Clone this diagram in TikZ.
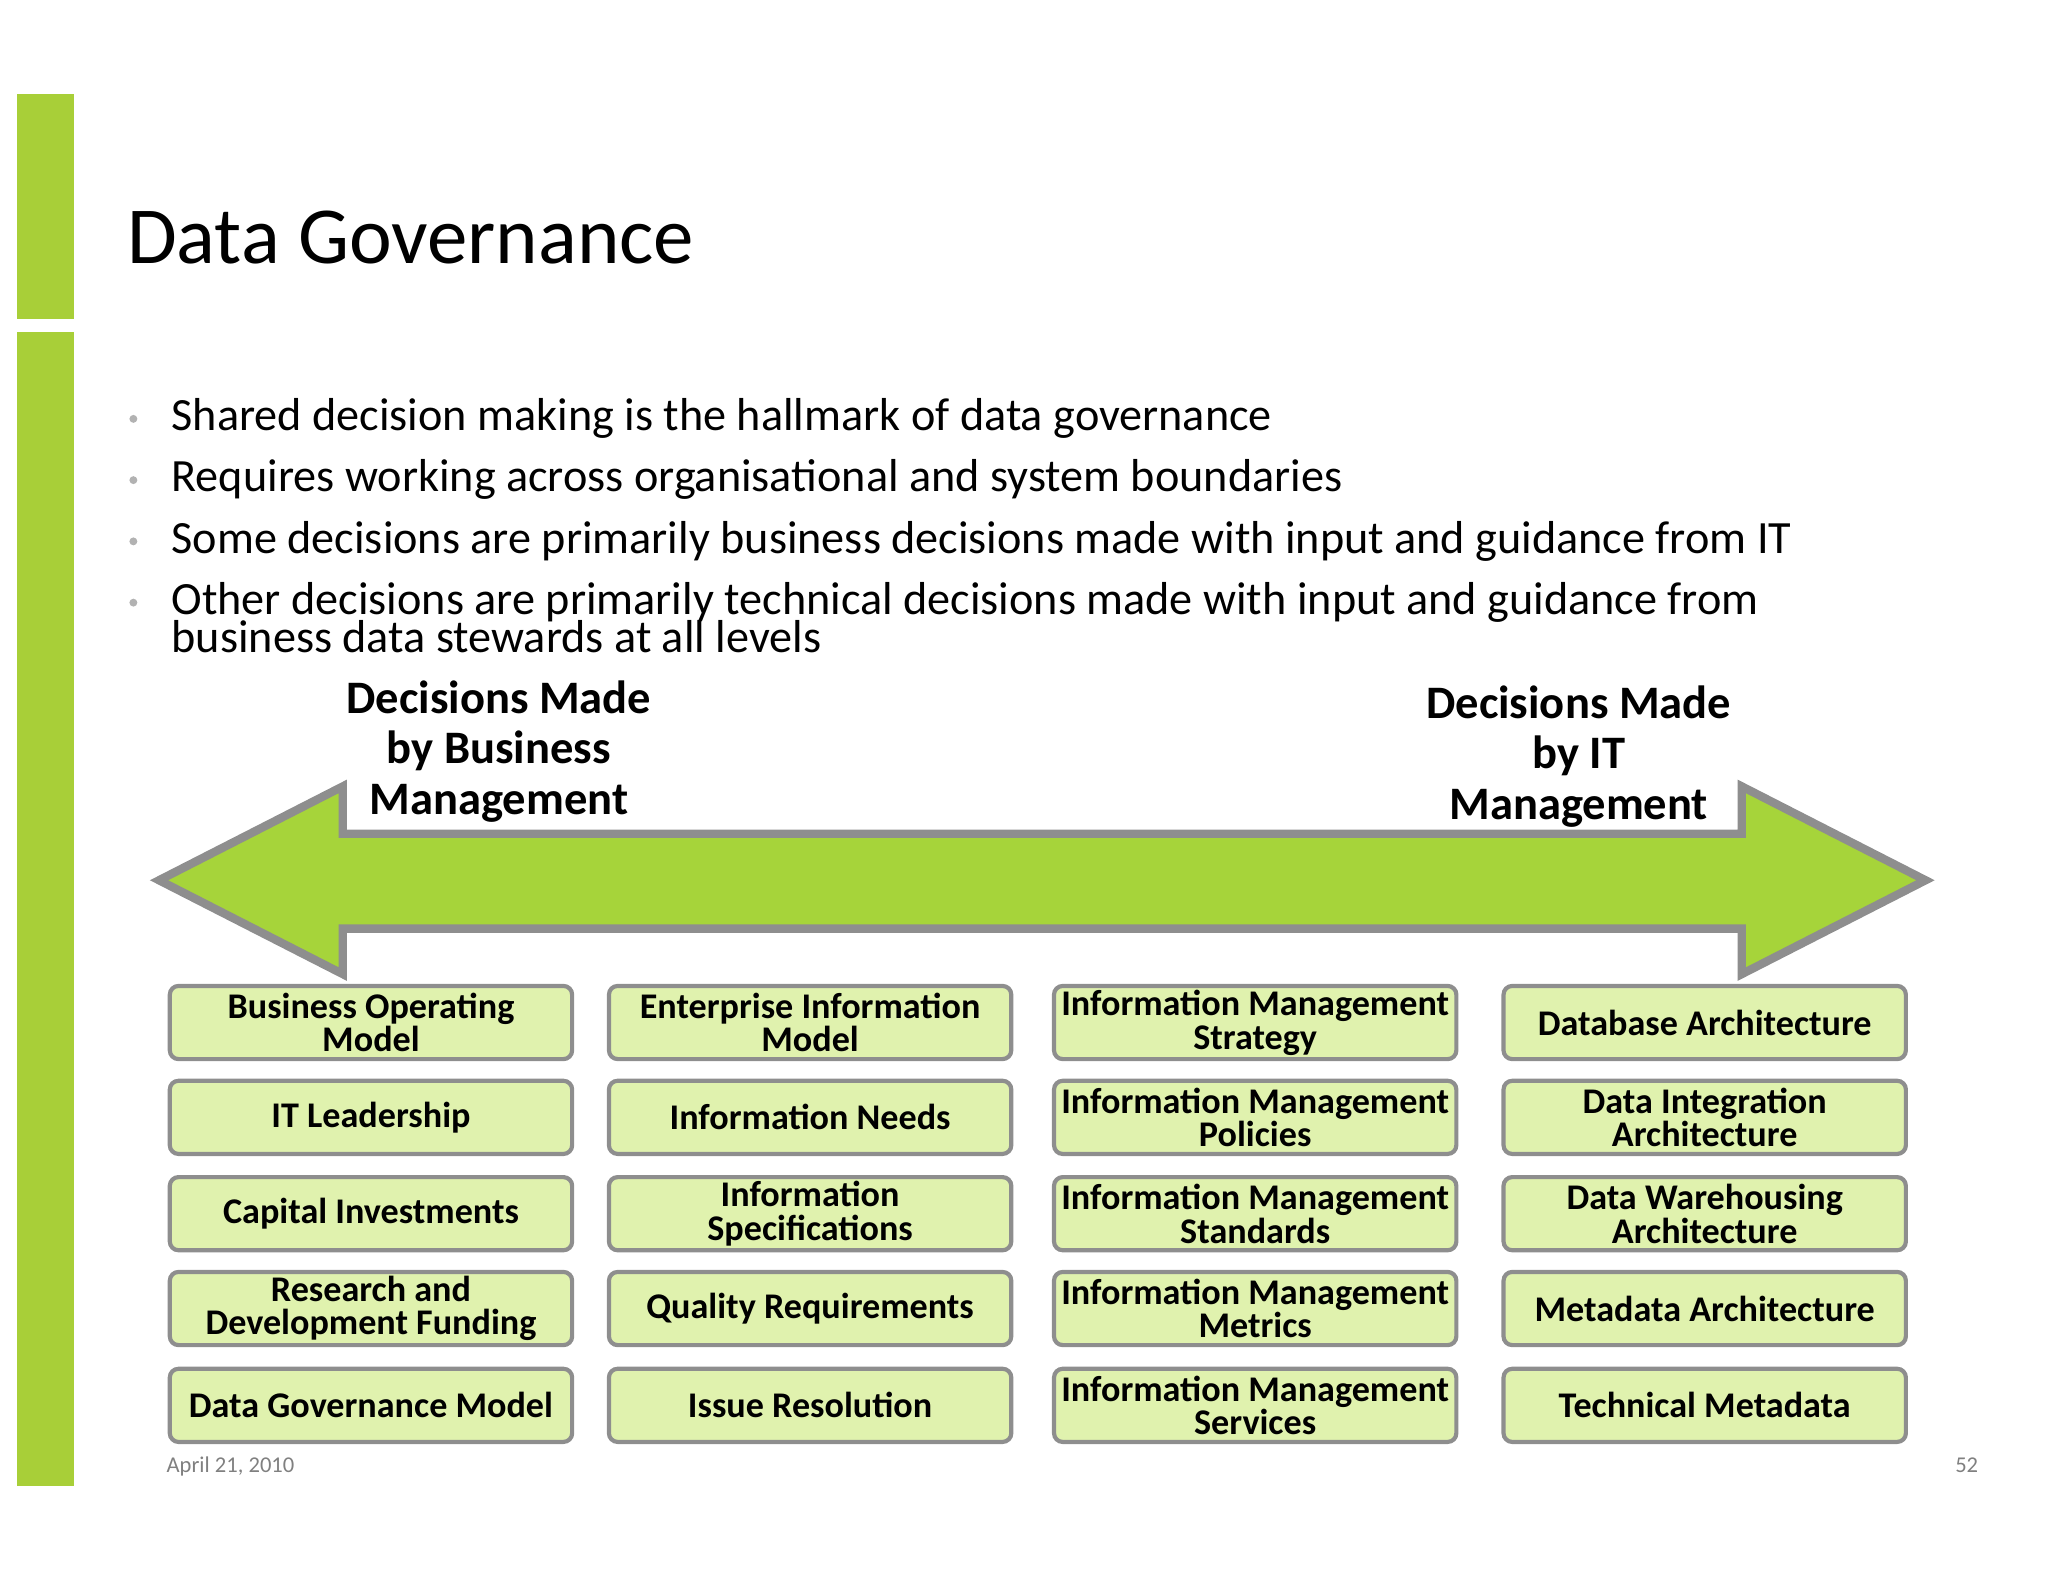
\documentclass[tikz,border=0pt]{standalone}
\usepackage{fontspec}
\setmainfont{Carlito}
\definecolor{lime}{HTML}{A8CF38}
\definecolor{arrowg}{HTML}{A6D43A}
\definecolor{boxg}{HTML}{E0F2AE}
\definecolor{bord}{HTML}{8E8E8E}
\begin{document}
\begin{tikzpicture}[x=0.01cm,y=-0.01cm,
  box/.style={draw=bord,line width=1.2pt,fill=boxg,rounded corners=2.5pt,minimum width=4.07cm,minimum height=0.74cm,inner sep=0pt,align=center,font=\fontsize{10.4}{9.7}\selectfont\bfseries},
  head/.style={align=center,font=\fontsize{13.4}{14.5}\selectfont\bfseries,anchor=base},
  bul/.style={anchor=base west,inner sep=0pt,font=\fontsize{13.3}{10}\selectfont}]
\useasboundingbox (0,0) rectangle (2073,1601);
\fill[lime] (17,95) rectangle (75,323);
\fill[lime] (17,336) rectangle (75,1504);
\node[anchor=base west,inner sep=0pt,font=\fontsize{23.3}{23}\selectfont] (title) at (128,267) {Data Governance};
\foreach \y/\t [count=\i] in {436/Shared decision making is the hallmark of data governance,
 498/Requires working across organisational and system boundaries,
 560/Some decisions are primarily business decisions made with input and guidance from IT,
 622/Other decisions are primarily technical decisions made with input and guidance from}{
 \node[bul] (b\i) at (173,\y) {\t};
 \fill[gray!60] (135,\y-12) circle (4);
}
\node[bul] (b5) at (173,660) {business data stewards at all levels};
\draw[bord,line width=2.4pt,fill=arrowg,line join=miter]
 (161,891) -- (347,796) -- (347,844) -- (1763,844) -- (1763,796) -- (1949,891) -- (1763,986) -- (1763,940) -- (347,940) -- (347,986) -- cycle;
\node[head] (hl) at (505,824) {Decisions Made\\by Business\\Management};
\node[head] (hr) at (1598,829) {Decisions Made\\by IT\\Management};
\foreach \x/\c in {375.5/1,820/2,1270.5/3,1725.5/4}{
 \foreach \y/\r in {1035/1,1131/2,1228.5/3,1324.5/4,1422.5/5}{
  \coordinate (p\c\r) at (\x,\y);
 }
}
\node[box] (n11) at (p11) {Business Operating\\Model};
\node[box] (n12) at (p12) {IT Leadership};
\node[box] (n13) at (p13) {Capital Investments};
\node[box] (n14) at (p14) {Research and\\Development Funding};
\node[box] (n15) at (p15) {Data Governance Model};
\node[box] (n21) at (p21) {Enterprise Information\\Model};
\node[box] (n22) at (p22) {Information Needs};
\node[box] (n23) at (p23) {Information\\Specifications};
\node[box] (n24) at (p24) {Quality Requirements};
\node[box] (n25) at (p25) {Issue Resolution};
\node[box] (n31) at (p31) {Information Management\\Strategy};
\node[box] (n32) at (p32) {Information Management\\Policies};
\node[box] (n33) at (p33) {Information Management\\Standards};
\node[box] (n34) at (p34) {Information Management\\Metrics};
\node[box] (n35) at (p35) {Information Management\\Services};
\node[box] (n41) at (p41) {Database Architecture};
\node[box] (n42) at (p42) {Data Integration\\Architecture};
\node[box] (n43) at (p43) {Data Warehousing\\Architecture};
\node[box] (n44) at (p44) {Metadata Architecture};
\node[box] (n45) at (p45) {Technical Metadata};
\node[anchor=base west,inner sep=0pt,text=gray,font=\fontsize{6.5}{7}\selectfont] (date) at (168,1490) {April 21, 2010};
\node[anchor=base east,inner sep=0pt,text=gray,font=\fontsize{6.5}{7}\selectfont] (pg) at (2003,1490) {52};
\end{tikzpicture}
\end{document}
